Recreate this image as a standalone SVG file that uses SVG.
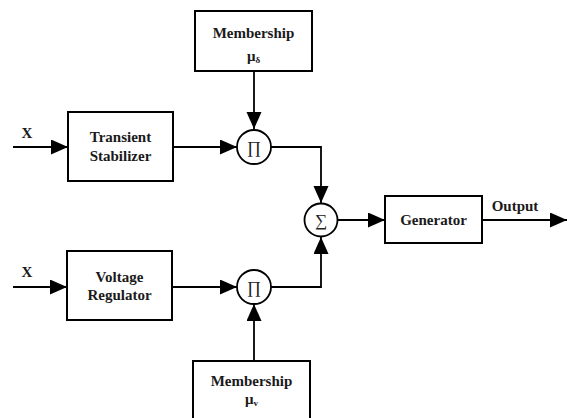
<svg xmlns="http://www.w3.org/2000/svg" width="567" height="418" viewBox="0 0 567 418">
<style>
.box{fill:#fff;stroke:#000;stroke-width:2}
.op{fill:#fff;stroke:#000;stroke-width:1.8}
.t{font-family:"Liberation Serif","Times New Roman",serif;font-weight:bold;font-size:15px;fill:#1a1a1a;text-anchor:middle}
.s{font-family:"Liberation Serif","Times New Roman",serif;font-size:17px;fill:#222;text-anchor:middle}
.ln{fill:none;stroke:#000;stroke-width:1.8}
</style>
<defs>
<marker id="ah" markerUnits="userSpaceOnUse" markerWidth="18" markerHeight="16" refX="17" refY="7.5" orient="auto">
<path d="M0,0 L17,7.5 L0,15 Z" fill="#000"/>
</marker>
</defs>
<rect width="567" height="418" fill="#fff"/>
<g id="connectors">
<line class="ln" x1="13" y1="147" x2="68" y2="147" marker-end="url(#ah)"/>
<line class="ln" x1="13" y1="287" x2="67" y2="287" marker-end="url(#ah)"/>
<line class="ln" x1="254" y1="71" x2="254" y2="129" marker-end="url(#ah)"/>
<line class="ln" x1="173" y1="147" x2="237" y2="147" marker-end="url(#ah)"/>
<line class="ln" x1="172" y1="287" x2="237" y2="287" marker-end="url(#ah)"/>
<line class="ln" x1="254" y1="361" x2="254" y2="304" marker-end="url(#ah)"/>
<polyline class="ln" points="271,147 321,147 321,203" marker-end="url(#ah)"/>
<polyline class="ln" points="271,287 321,287 321,237" marker-end="url(#ah)"/>
<line class="ln" x1="338" y1="220" x2="385" y2="220" marker-end="url(#ah)"/>
<line class="ln" x1="482" y1="220" x2="567" y2="220" marker-end="url(#ah)"/>
</g>
<g id="x1"><text class="t" x="27" y="138">X</text></g>
<g id="x2"><text class="t" x="27" y="277">X</text></g>
<g id="membership-delta">
<rect class="box" x="195" y="11" width="117" height="60"/>
<text class="t" x="253.5" y="38">Membership</text>
<text class="t" x="253.5" y="61" font-size="13">μ<tspan font-size="9" dy="2">δ</tspan></text>
</g>
<g id="transient-stabilizer">
<rect class="box" x="68" y="112" width="105" height="69"/>
<text class="t" x="120.5" y="142">Transient</text>
<text class="t" x="120.5" y="161">Stabilizer</text>
</g>
<g id="voltage-regulator">
<rect class="box" x="67" y="251" width="105" height="69"/>
<text class="t" x="119.5" y="282">Voltage</text>
<text class="t" x="119.5" y="300">Regulator</text>
</g>
<g id="prod-top">
<circle class="op" cx="254" cy="147" r="17"/>
<text class="s" x="254" y="153">∏</text>
</g>
<g id="prod-bottom">
<circle class="op" cx="254" cy="287" r="17"/>
<text class="s" x="254" y="293">∏</text>
</g>
<g id="sum">
<circle class="op" cx="321" cy="220" r="16.5"/>
<text class="s" x="321" y="226">∑</text>
</g>
<g id="generator">
<rect class="box" x="385" y="196" width="97" height="47"/>
<text class="t" x="433.5" y="225">Generator</text>
</g>
<g id="output-label"><text class="t" x="515" y="211">Output</text></g>
<g id="membership-v">
<rect class="box" x="193" y="361" width="117" height="60"/>
<text class="t" x="251.5" y="386">Membership</text>
<text class="t" x="251.5" y="404" font-size="13">μ<tspan font-size="9" dy="2">v</tspan></text>
</g>
</svg>
